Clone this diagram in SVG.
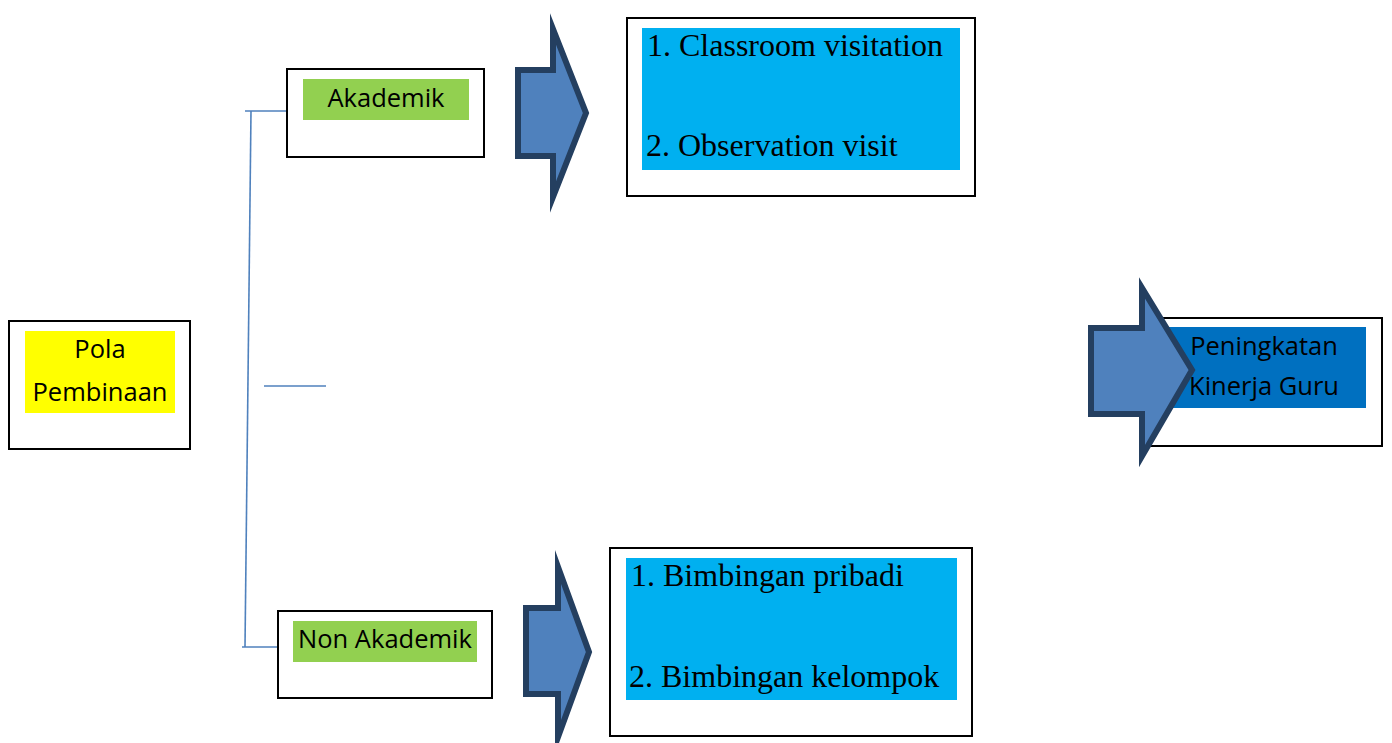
<svg xmlns="http://www.w3.org/2000/svg" width="1392" height="743" viewBox="0 0 1392 743">
<style>
.box{fill:#fff;stroke:#000;stroke-width:2}
.sans{font-family:"Open Sans","Noto Sans","DejaVu Sans",sans-serif;font-size:25.5px;fill:#000;text-anchor:middle}
.serif{font-family:"Liberation Serif","Times New Roman",serif;font-size:32px;fill:#000}
.arrow{fill:#4F81BD;stroke:#243F60;stroke-width:6;stroke-linejoin:miter;stroke-miterlimit:10}
.conn{stroke:#4F81BD;stroke-width:1.6;fill:none}
</style>
<rect width="1392" height="743" fill="#fff"/>
<g id="connectors">
<line class="conn" x1="251" y1="111" x2="245" y2="647"/>
<line class="conn" x1="245" y1="111" x2="288" y2="111"/>
<line class="conn" x1="242" y1="647" x2="278" y2="647"/>
<line class="conn" x1="264" y1="386" x2="326" y2="386"/>
</g>
<g id="pola">
<rect class="box" x="9" y="321" width="181" height="128"/>
<rect x="25" y="331" width="150" height="82" fill="#FFFF00"/>
<text class="sans" x="100" y="358">Pola</text>
<text class="sans" x="100" y="401">Pembinaan</text>
</g>
<g id="akademik">
<rect class="box" x="287" y="69" width="197" height="88"/>
<rect x="303" y="79" width="166" height="41" fill="#92D050"/>
<text class="sans" x="386" y="107">Akademik</text>
</g>
<g id="non-akademik">
<rect class="box" x="278" y="611" width="214" height="87"/>
<rect x="293" y="621" width="184" height="41" fill="#92D050"/>
<text class="sans" x="385" y="648">Non Akademik</text>
</g>
<g id="arrow-1">
<polygon class="arrow" points="518,70 553,70 553,29 586,113 553,197 553,156 518,156"/>
</g>
<g id="arrow-2">
<polygon class="arrow" points="526,608 558,608 558,567 589,652 558,737 558,694 526,694"/>
</g>
<g id="akademik-list">
<rect class="box" x="627" y="18" width="348" height="178"/>
<rect x="642" y="28" width="318" height="142" fill="#00B0F0"/>
<text class="serif" x="647" y="56">1. Classroom visitation</text>
<text class="serif" x="646" y="156">2. Observation visit</text>
</g>
<g id="non-akademik-list">
<rect class="box" x="610" y="548" width="362" height="188"/>
<rect x="626" y="558" width="331" height="142" fill="#00B0F0"/>
<text class="serif" x="631" y="586">1. Bimbingan pribadi</text>
<text class="serif" x="629" y="687">2. Bimbingan kelompok</text>
</g>
<g id="peningkatan">
<rect class="box" x="1151" y="318" width="231" height="128"/>
<rect x="1160" y="327" width="206" height="81" fill="#0070C0"/>
<text class="sans" x="1264" y="355">Peningkatan</text>
<text class="sans" x="1264" y="395">Kinerja Guru</text>
</g>
<g id="arrow-3">
<polygon class="arrow" points="1091,328 1142,328 1142,288 1192,370 1142,456 1142,414 1091,414"/>
</g>
</svg>
